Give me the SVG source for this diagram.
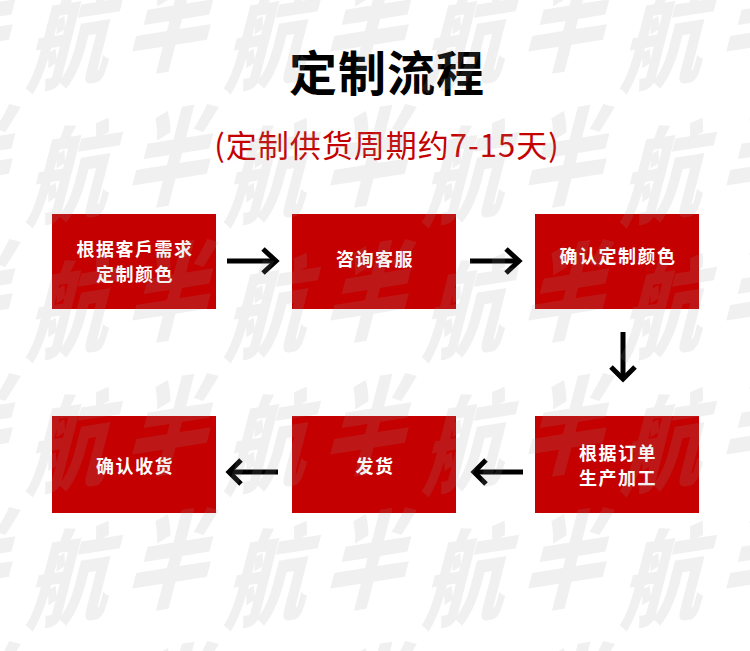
<svg xmlns="http://www.w3.org/2000/svg" xmlns:xlink="http://www.w3.org/1999/xlink" width="750" height="651" viewBox="0 0 750 651">
<style>
.box{fill:#c40000}
.lbl{font-family:"Noto Sans CJK SC","Noto Sans",sans-serif;font-size:18px;font-weight:700;fill:#ffffff;text-anchor:middle;letter-spacing:1.5px}
.wm{font-family:"Noto Sans CJK SC","Noto Sans",sans-serif;font-size:102px;font-weight:900;fill:#9a9a9a;fill-opacity:0.15}
.arr{fill:none;stroke:#000000;stroke-width:5}
</style>
<defs>
<text id="wmt" class="wm" transform="skewY(-9) skewX(-15) scale(0.8,1)"><tspan x="0" y="0">航</tspan><tspan x="124" y="0">半</tspan></text>
</defs>
<rect x="0" y="0" width="750" height="651" fill="#ffffff"/>
<g id="title">
<text x="387" y="91" font-family="'Noto Sans CJK SC','Noto Sans',sans-serif" font-size="48" font-weight="700" fill="#000000" text-anchor="middle" letter-spacing="1">定制流程</text>
<text x="387" y="157" font-family="'Noto Sans CJK SC','Noto Sans',sans-serif" font-size="31" font-weight="400" fill="#c40000" text-anchor="middle" letter-spacing="1">(定制供货周期约7-15天)</text>
</g>
<g id="node1"><rect class="box" x="52" y="214" width="164" height="95"/><text class="lbl" x="135" y="256">根据客戶需求</text><text class="lbl" x="135" y="281">定制颜色</text></g>
<g id="node2"><rect class="box" x="292" y="214" width="164" height="95"/><text class="lbl" x="375" y="266">咨询客服</text></g>
<g id="node3"><rect class="box" x="535" y="214" width="164" height="95"/><text class="lbl" x="618" y="263">确认定制颜色</text></g>
<g id="node4"><rect class="box" x="535" y="416" width="164" height="97"/><text class="lbl" x="618" y="460">根据订单</text><text class="lbl" x="618" y="485">生产加工</text></g>
<g id="node5"><rect class="box" x="292" y="416" width="164" height="97"/><text class="lbl" x="375" y="473">发货</text></g>
<g id="node6"><rect class="box" x="52" y="416" width="164" height="97"/><text class="lbl" x="135" y="473">确认收货</text></g>
<g id="connectors">
<path class="arr" d="M227 261 H276"/><polyline class="arr" points="263,249 276,261 263,273"/>
<path class="arr" d="M470 261 H519"/><polyline class="arr" points="506,249 519,261 506,273"/>
<path class="arr" d="M623 332 V379"/><polyline class="arr" points="611,367 623,379 635,367"/>
<path class="arr" d="M278 472 H229"/><polyline class="arr" points="241,460 229,472 241,484"/>
<path class="arr" d="M523 472 H474"/><polyline class="arr" points="486,460 474,472 486,484"/>
</g>
<g id="watermark">
<use xlink:href="#wmt" x="-173" y="85"/><use xlink:href="#wmt" x="25" y="85"/><use xlink:href="#wmt" x="223" y="85"/><use xlink:href="#wmt" x="421" y="85"/><use xlink:href="#wmt" x="619" y="85"/>
<use xlink:href="#wmt" x="-173" y="219"/><use xlink:href="#wmt" x="25" y="219"/><use xlink:href="#wmt" x="223" y="219"/><use xlink:href="#wmt" x="421" y="219"/><use xlink:href="#wmt" x="619" y="219"/>
<use xlink:href="#wmt" x="-173" y="354"/><use xlink:href="#wmt" x="25" y="354"/><use xlink:href="#wmt" x="223" y="354"/><use xlink:href="#wmt" x="421" y="354"/><use xlink:href="#wmt" x="619" y="354"/>
<use xlink:href="#wmt" x="-173" y="488"/><use xlink:href="#wmt" x="25" y="488"/><use xlink:href="#wmt" x="223" y="488"/><use xlink:href="#wmt" x="421" y="488"/><use xlink:href="#wmt" x="619" y="488"/>
<use xlink:href="#wmt" x="-173" y="622"/><use xlink:href="#wmt" x="25" y="622"/><use xlink:href="#wmt" x="223" y="622"/><use xlink:href="#wmt" x="421" y="622"/><use xlink:href="#wmt" x="619" y="622"/>
<use xlink:href="#wmt" x="-173" y="756"/><use xlink:href="#wmt" x="25" y="756"/><use xlink:href="#wmt" x="223" y="756"/><use xlink:href="#wmt" x="421" y="756"/><use xlink:href="#wmt" x="619" y="756"/>
</g>
</svg>
